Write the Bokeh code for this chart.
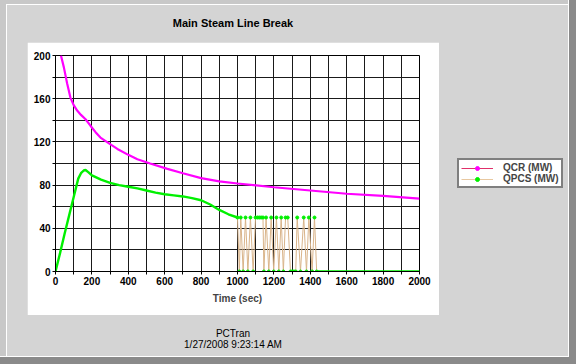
from bokeh.plotting import figure
from bokeh.models import (FixedTicker, Legend, LegendItem, Range1d, Div)
from bokeh.layouts import column, row
from bokeh.embed import file_html
from bokeh.resources import INLINE

# ---------------- data ----------------
qcr_t = [30, 46, 64, 82, 100, 119, 140, 165, 192, 220, 247, 300, 340, 400, 450,
         520, 615, 700, 800, 900, 1000, 1200, 1400, 1600, 1800, 2000]
qcr_v = [200, 189, 174, 161, 154, 149, 145, 141, 135, 129, 124, 118, 113.5, 108,
         104, 100, 95, 91, 86.5, 83.5, 81.5, 78, 75, 72, 70, 67.5]

pcs_t = [0, 25, 50, 75, 100, 125, 140, 155, 165, 180, 200, 250, 300, 350, 400,
         450, 500, 550, 600, 650, 700, 750, 800, 850, 900, 950, 1000]
pcs_v = [0, 17, 35, 52, 69, 86, 91, 93.5, 94, 92, 89, 85, 82, 80, 78.5, 77, 75,
         73, 71.5, 70.5, 69.5, 68, 66, 62, 57, 53, 50]

osc_t = [1000, 1010, 1018, 1031, 1044, 1057, 1071, 1086, 1099, 1110, 1120, 1130,
         1140, 1145, 1157, 1172, 1185, 1199, 1214, 1227, 1240, 1252, 1264, 1276,
         1291, 1300, 1310, 1320, 1328, 1346, 1364, 1379, 1392, 1410, 1423, 1435]
osc_v = [50, 0, 50, 0, 50, 0, 50, 0, 50, 50, 50, 50,
         50, 0, 50, 0, 50, 0, 50, 0, 50, 0, 50, 50,
         0, 0, 0, 0, 50, 0, 50, 0, 50, 0, 50, 0]

tail_t = [1435, 2000]
tail_v = [0, 0]

x_ticks = [0, 200, 400, 600, 800, 1000, 1200, 1400, 1600, 1800, 2000]
x_minor = [100, 300, 500, 700, 900, 1100, 1300, 1500, 1700, 1900]
y_ticks = [0, 40, 80, 120, 160, 200]
y_minor = [20, 60, 100, 140, 180]

title_text = "Main Steam Line Break"
footer_lines = ["PCTran", "1/27/2008 9:23:14 AM"]
legend_labels = ["QCR (MW)", "QPCS (MW)"]

# ---------------- styling ----------------
FONT = "Liberation Sans"
GRAY = "#D4D4D4"
MAGENTA = "#FF00FF"
GREEN = "#00F000"
TAN = "#D9B48A"
NAN = float("nan")

PANEL_X, PANEL_Y, PANEL_W, PANEL_H = 27, 42, 412, 273

p = figure(width=PANEL_W, height=PANEL_H, x_range=Range1d(0, 2000),
           y_range=Range1d(0, 200), output_backend="svg",
           toolbar_location=None,
           min_border_left=28, min_border_right=20,
           min_border_top=13, min_border_bottom=44,
           margin=(0, 0, 0, PANEL_X))
p.border_fill_color = "white"
p.background_fill_color = "white"
p.outline_line_color = "black"
p.outline_line_width = 1

p.xaxis.ticker = FixedTicker(ticks=x_ticks, minor_ticks=x_minor)
p.yaxis.ticker = FixedTicker(ticks=y_ticks, minor_ticks=y_minor)
for ax in (p.xaxis[0], p.yaxis[0]):
    ax.axis_line_color = "black"
    ax.major_tick_line_color = "black"
    ax.minor_tick_line_color = "black"
    ax.major_tick_out = 3
    ax.major_tick_in = 0
    ax.minor_tick_out = 3
    ax.minor_tick_in = 0
    ax.major_label_text_font = FONT
    ax.major_label_text_font_style = "bold"
    ax.major_label_text_font_size = "10px"
    ax.major_label_text_color = "black"
    ax.major_label_standoff = 2
p.xaxis.axis_label = "Time (sec)"
p.xaxis.axis_label_text_font = FONT
p.xaxis.axis_label_text_font_style = "bold"
p.xaxis.axis_label_text_font_size = "10px"
p.xaxis.axis_label_standoff = 5

p.xgrid.ticker = FixedTicker(ticks=sorted(x_ticks + x_minor))
p.ygrid.ticker = FixedTicker(ticks=sorted(y_ticks + y_minor))
for g in (p.xgrid[0], p.ygrid[0]):
    g.grid_line_color = "#1a1a1a"
    g.grid_line_width = 1
    g.grid_line_alpha = 1.0

p.line(qcr_t, qcr_v, line_color=MAGENTA, line_width=2.2)
p.line(pcs_t, pcs_v, line_color=GREEN, line_width=2.4)
p.line(osc_t, osc_v, line_color=TAN, line_width=1)
p.scatter(osc_t, osc_v, marker="circle", size=3, color=GREEN)
p.line(tail_t, tail_v, line_color=GREEN, line_width=2.4)

# ---------------- legend (separate area on the gray background) ----------------
LF_W = 576 - (PANEL_X + PANEL_W) - 8
lf = figure(width=LF_W, height=PANEL_H, title=None, toolbar_location=None,
            output_backend="svg", x_axis_type=None, y_axis_type=None,
            min_border=0, margin=(0, 0, 0, 0))
lf.background_fill_color = GRAY
lf.border_fill_color = GRAY
lf.outline_line_color = None
lf.xgrid.visible = False
lf.ygrid.visible = False
# legend-only proxies (NaN points are never drawn)
lq = lf.line([NAN, NAN], [NAN, NAN], line_color="#E0306A", line_width=1)
sq = lf.scatter([NAN], [NAN], marker="circle", size=3, color=MAGENTA)
lp = lf.line([NAN, NAN], [NAN, NAN], line_color="#E8C8A0", line_width=1)
sp = lf.scatter([NAN], [NAN], marker="circle", size=3, color=GREEN)
legend = Legend(items=[LegendItem(label=legend_labels[0], renderers=[lq, sq]),
                       LegendItem(label=legend_labels[1], renderers=[lp, sp])],
                location=(18, 83),
                border_line_color="black", border_line_width=2,
                background_fill_color="white", background_fill_alpha=1.0,
                label_text_font=FONT, label_text_font_style="bold",
                label_text_font_size="10px", glyph_width=32, glyph_height=10,
                label_height=10, spacing=0, padding=2, margin=0,
                label_standoff=10)
lf.add_layout(legend)

# ---------------- texts ----------------
title = Div(text=f'<div style="width:{PANEL_W}px;font:bold 11px \'{FONT}\';'
                 f'color:black;text-align:center;padding-top:17px;">'
                 f'{title_text}</div>',
            width=PANEL_W, height=PANEL_Y, margin=(0, 0, 0, PANEL_X))
footer = Div(text=f'<div style="width:{PANEL_W}px;font:10px \'{FONT}\';'
                  f'color:black;text-align:center;line-height:11px;'
                  f'padding-top:13px;">'
                  f'{footer_lines[0]}<br>{footer_lines[1]}</div>',
             width=PANEL_W, height=364 - PANEL_Y - PANEL_H,
             margin=(0, 0, 0, PANEL_X))

mid = row(p, lf, margin=0, spacing=0)
page = column(title, mid, footer, width=576, height=364, spacing=0, margin=0,
              styles={"background-color": GRAY,
                      "box-shadow": "inset -7px -7px 0 0 #8a8a8a, "
                                    "inset -8px -8px 0 0 #ffffff, "
                                    "inset 6px 4px 0 0 #c8c8c8, "
                                    "inset 7px 5px 0 0 #ffffff"})

open("out.html", "w").write(file_html(page, INLINE))
